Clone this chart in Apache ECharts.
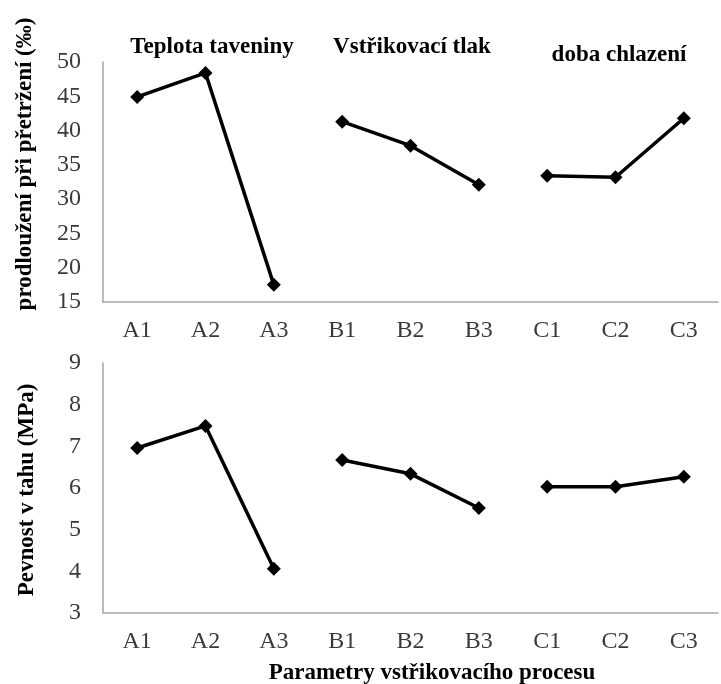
<!DOCTYPE html>
<html>
<head>
<meta charset="utf-8">
<script src="https://cdn.jsdelivr.net/npm/echarts@6/dist/echarts.min.js"></script>
<style>
  html, body { margin: 0; padding: 0; background: #fff; }
  #main { width: 721px; height: 684px; }
</style>
</head>
<body>
<div id="main"></div>
<script>
// kategorie parametrů
const categories = ['A1', 'A2', 'A3', 'B1', 'B2', 'B3', 'C1', 'C2', 'C3'];
// skupiny (po třech kategoriích)
const groups = ['Teplota taveniny', 'Vstřikovací tlak', 'doba chlazení'];
// prodloužení při přetržení (‰)
const elongation = [44.9, 48.4, 17.5, 41.3, 37.8, 32.1, 33.4, 33.2, 41.8];
// pevnost v tahu (MPa)
const strength = [6.96, 7.49, 4.06, 6.67, 6.34, 5.52, 6.03, 6.03, 6.27];

const serif = '"Liberation Serif", "Times New Roman", serif';
const myChart = echarts.init(document.getElementById('main'));

// rozdělí řadu na tři samostatné úseky (čára se mezi skupinami nespojuje)
function groupSeries(values, axisIndex) {
  return groups.map((g, gi) => ({
    name: g,
    type: 'line',
    xAxisIndex: axisIndex,
    yAxisIndex: axisIndex,
    symbol: 'diamond',
    symbolSize: 14,
    lineStyle: { color: '#000', width: 3.5 },
    itemStyle: { color: '#000' },
    data: values.map((v, i) => (Math.floor(i / 3) === gi ? v : null))
  }));
}

function xAxis(gridIndex) {
  return {
    type: 'category',
    gridIndex: gridIndex,
    data: categories,
    boundaryGap: true,
    axisLine: { lineStyle: { color: '#a6a6a6', width: 1.5 } },
    axisTick: { show: false },
    axisLabel: { color: '#3a3a3a', fontFamily: serif, fontSize: 24, margin: 17 }
  };
}

function yAxis(gridIndex, min, max, interval) {
  return {
    type: 'value',
    gridIndex: gridIndex,
    min: min,
    max: max,
    interval: interval,
    axisLine: { show: true, lineStyle: { color: '#a6a6a6', width: 1.5 } },
    axisTick: { show: false },
    splitLine: { show: false },
    axisLabel: { color: '#3a3a3a', fontFamily: serif, fontSize: 24, margin: 22 }
  };
}

function label(text, x, y, rotate) {
  return {
    type: 'text',
    x: x,
    y: y,
    rotation: rotate ? Math.PI / 2 : 0,
    style: {
      text: text,
      fill: '#000',
      font: 'bold 23px ' + serif,
      textAlign: 'center',
      textVerticalAlign: 'middle'
    }
  };
}

const option = {
  animation: false,
  grid: [
    { left: 103, right: 3, top: 62, height: 240 },
    { left: 103, right: 3, top: 363, height: 250 }
  ],
  xAxis: [xAxis(0), xAxis(1)],
  yAxis: [yAxis(0, 15, 50, 5), yAxis(1, 3, 9, 1)],
  series: groupSeries(elongation, 0).concat(groupSeries(strength, 1)),
  graphic: [
    label('Teplota taveniny', 212, 47),
    label('Vstřikovací tlak', 412, 47),
    label('doba chlazení', 619, 55),
    label('prodloužení při přetržení (‰)', 25, 164, true),
    label('Pevnost v tahu (MPa)', 27, 490, true),
    label('Parametry vstřikovacího procesu', 432, 673)
  ]
};
myChart.setOption(option);
</script>
</body>
</html>
